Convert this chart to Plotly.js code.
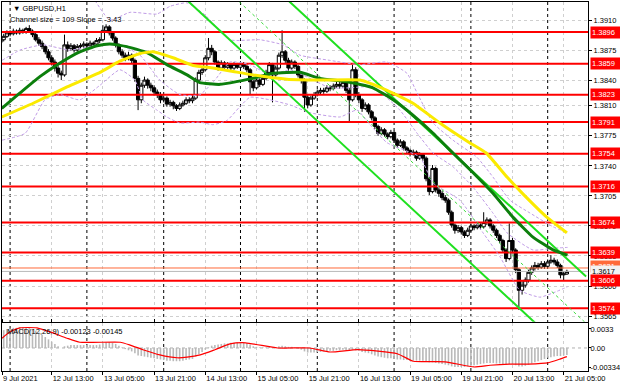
<!DOCTYPE html>
<html><head><meta charset="utf-8">
<script src="https://cdn.plot.ly/plotly-3.0.1.min.js"></script>
<style>html,body{margin:0;padding:0;background:#fff}#chart{width:620px;height:388px}</style>
</head><body><div id="chart"></div>
<script>
// ---- hourly candles, GBPUSD H1, bar 0 = 12 Jul 00:00 (first bar = 9 Jul 21:00) ----
const openP = [1.3884,1.3887,1.3891,1.3895,1.3894,1.3897,1.3895,1.3898,1.3896,1.3900,
1.3897,1.3893,1.3887,1.3883,1.3879,1.3873,1.3866,1.3861,1.3854,1.3848,
1.3846,1.3881,1.3877,1.3880,1.3875,1.3879,1.3880,1.3882,1.3880,1.3883,
1.3882,1.3886,1.3887,1.3898,1.3902,1.3895,1.3889,1.3881,1.3873,1.3869,
1.3866,1.3869,1.3863,1.3842,1.3817,1.3834,1.3840,1.3834,1.3831,1.3826,
1.3823,1.3817,1.3819,1.3812,1.3814,1.3810,1.3807,1.3811,1.3813,1.3817,
1.3816,1.3819,1.3840,1.3849,1.3852,1.3866,1.3877,1.3873,1.3861,1.3854,
1.3860,1.3855,1.3858,1.3854,1.3858,1.3855,1.3859,1.3856,1.3852,1.3838,
1.3831,1.3840,1.3835,1.3842,1.3849,1.3858,1.3846,1.3854,1.3869,1.3873,
1.3863,1.3854,1.3861,1.3856,1.3846,1.3840,1.3820,1.3811,1.3819,1.3823,
1.3826,1.3828,1.3827,1.3831,1.3830,1.3833,1.3835,1.3833,1.3837,1.3828,
1.3817,1.3852,1.3823,1.3817,1.3807,1.3811,1.3803,1.3796,1.3786,1.3778,
1.3782,1.3777,1.3774,1.3779,1.3770,1.3764,1.3768,1.3761,1.3758,1.3754,
1.3756,1.3749,1.3753,1.3749,1.3725,1.3710,1.3737,1.3712,1.3708,1.3703,
1.3700,1.3686,1.3671,1.3665,1.3668,1.3663,1.3659,1.3665,1.3670,1.3668,
1.3671,1.3669,1.3674,1.3677,1.3670,1.3665,1.3659,1.3653,1.3642,1.3632,
1.3653,1.3642,1.3619,1.3595,1.3601,1.3607,1.3616,1.3621,1.3624,1.3622,
1.3626,1.3623,1.3628,1.3630,1.3628,1.3624,1.3613,1.3614];
const highP = [1.3890,1.3894,1.3898,1.3898,1.3900,1.3899,1.3901,1.3900,1.3902,1.3904,
1.3899,1.3895,1.3890,1.3886,1.3881,1.3876,1.3869,1.3864,1.3857,1.3851,
1.3893,1.3885,1.3883,1.3882,1.3882,1.3883,1.3885,1.3884,1.3886,1.3885,
1.3889,1.3890,1.3904,1.3905,1.3904,1.3897,1.3891,1.3883,1.3876,1.3872,
1.3873,1.3871,1.3865,1.3845,1.3837,1.3844,1.3842,1.3837,1.3834,1.3829,
1.3826,1.3822,1.3821,1.3817,1.3816,1.3812,1.3814,1.3816,1.3820,1.3820,
1.3822,1.3843,1.3852,1.3856,1.3869,1.3889,1.3881,1.3875,1.3863,1.3863,
1.3862,1.3861,1.3860,1.3861,1.3860,1.3862,1.3861,1.3858,1.3854,1.3840,
1.3843,1.3842,1.3845,1.3852,1.3861,1.3860,1.3857,1.3872,1.3898,1.3875,
1.3866,1.3864,1.3863,1.3858,1.3848,1.3842,1.3823,1.3822,1.3826,1.3829,
1.3831,1.3831,1.3834,1.3834,1.3836,1.3838,1.3838,1.3840,1.3839,1.3831,
1.3858,1.3855,1.3826,1.3819,1.3814,1.3813,1.3805,1.3798,1.3788,1.3785,
1.3784,1.3779,1.3782,1.3781,1.3772,1.3771,1.3770,1.3763,1.3760,1.3759,
1.3758,1.3756,1.3755,1.3751,1.3727,1.3741,1.3739,1.3715,1.3711,1.3706,
1.3702,1.3688,1.3673,1.3671,1.3670,1.3665,1.3668,1.3673,1.3672,1.3674,
1.3673,1.3686,1.3680,1.3679,1.3672,1.3667,1.3661,1.3655,1.3644,1.3673,
1.3656,1.3644,1.3621,1.3606,1.3610,1.3619,1.3624,1.3628,1.3627,1.3629,
1.3629,1.3631,1.3636,1.3633,1.3631,1.3626,1.3617,1.3619];
const lowP = [1.3881,1.3885,1.3889,1.3891,1.3892,1.3893,1.3893,1.3894,1.3894,1.3895,
1.3890,1.3885,1.3880,1.3876,1.3870,1.3863,1.3857,1.3850,1.3843,1.3840,
1.3844,1.3873,1.3874,1.3872,1.3873,1.3876,1.3877,1.3877,1.3878,1.3879,
1.3880,1.3883,1.3885,1.3895,1.3892,1.3886,1.3878,1.3870,1.3866,1.3862,
1.3863,1.3859,1.3838,1.3805,1.3813,1.3831,1.3830,1.3827,1.3822,1.3819,
1.3813,1.3814,1.3809,1.3809,1.3806,1.3804,1.3805,1.3809,1.3811,1.3813,
1.3813,1.3817,1.3837,1.3846,1.3850,1.3863,1.3869,1.3858,1.3851,1.3852,
1.3852,1.3853,1.3851,1.3852,1.3853,1.3853,1.3853,1.3849,1.3823,1.3827,
1.3829,1.3832,1.3833,1.3840,1.3847,1.3814,1.3844,1.3852,1.3866,1.3860,
1.3851,1.3852,1.3853,1.3843,1.3836,1.3803,1.3807,1.3809,1.3817,1.3821,
1.3823,1.3824,1.3825,1.3827,1.3828,1.3831,1.3830,1.3831,1.3825,1.3791,
1.3815,1.3820,1.3813,1.3803,1.3805,1.3800,1.3793,1.3783,1.3775,1.3776,
1.3774,1.3771,1.3772,1.3767,1.3761,1.3762,1.3758,1.3755,1.3751,1.3752,
1.3746,1.3747,1.3746,1.3722,1.3706,1.3708,1.3709,1.3704,1.3700,1.3697,
1.3683,1.3668,1.3661,1.3662,1.3660,1.3656,1.3657,1.3663,1.3665,1.3666,
1.3666,1.3667,1.3671,1.3667,1.3662,1.3656,1.3650,1.3639,1.3628,1.3630,
1.3638,1.3615,1.3572,1.3590,1.3598,1.3604,1.3613,1.3618,1.3619,1.3620,
1.3620,1.3621,1.3626,1.3625,1.3621,1.3609,1.3606,1.3613];
const closeP = [1.3887,1.3891,1.3895,1.3894,1.3897,1.3895,1.3898,1.3896,1.3900,1.3897,
1.3893,1.3887,1.3883,1.3879,1.3873,1.3866,1.3861,1.3854,1.3848,1.3846,
1.3881,1.3877,1.3880,1.3875,1.3879,1.3880,1.3882,1.3880,1.3883,1.3882,
1.3886,1.3887,1.3898,1.3902,1.3895,1.3889,1.3881,1.3873,1.3869,1.3866,
1.3869,1.3863,1.3842,1.3817,1.3834,1.3840,1.3834,1.3831,1.3826,1.3823,
1.3817,1.3819,1.3812,1.3814,1.3810,1.3807,1.3811,1.3813,1.3817,1.3816,
1.3819,1.3840,1.3849,1.3852,1.3866,1.3877,1.3873,1.3861,1.3854,1.3860,
1.3855,1.3858,1.3854,1.3858,1.3855,1.3859,1.3856,1.3852,1.3838,1.3831,
1.3840,1.3835,1.3842,1.3849,1.3858,1.3846,1.3854,1.3869,1.3873,1.3863,
1.3854,1.3861,1.3856,1.3846,1.3840,1.3820,1.3811,1.3819,1.3823,1.3826,
1.3828,1.3827,1.3831,1.3830,1.3833,1.3835,1.3833,1.3837,1.3828,1.3817,
1.3852,1.3823,1.3817,1.3807,1.3811,1.3803,1.3796,1.3786,1.3778,1.3782,
1.3777,1.3774,1.3779,1.3770,1.3764,1.3768,1.3761,1.3758,1.3754,1.3756,
1.3749,1.3753,1.3749,1.3725,1.3710,1.3737,1.3712,1.3708,1.3703,1.3700,
1.3686,1.3671,1.3665,1.3668,1.3663,1.3659,1.3665,1.3670,1.3668,1.3671,
1.3669,1.3674,1.3677,1.3670,1.3665,1.3659,1.3653,1.3642,1.3632,1.3653,
1.3642,1.3619,1.3595,1.3601,1.3607,1.3616,1.3621,1.3624,1.3622,1.3626,
1.3623,1.3628,1.3630,1.3628,1.3624,1.3613,1.3614,1.3617];
const firstBar = -3;

// ---- MACD(12,26,9) ----
const macdHist = [0.0030,0.0031,0.0033,0.0034,0.0035,0.0035,0.0036,0.0036,0.0036,0.0035,0.0033,
0.0030,0.0027,0.0023,0.0019,0.0015,0.0011,0.0007,0.0003,0.0000,
0.0003,0.0004,0.0005,0.0005,0.0005,0.0005,0.0005,0.0005,0.0005,0.0005,0.0005,0.0006,0.0008,0.0010,
0.0010,0.0009,0.0007,0.0004,0.0001,-0.0002,-0.0004,-0.0006,-0.0009,-0.0013,-0.0014,-0.0015,-0.0016,-0.0017,-0.0018,
-0.0019,-0.0020,-0.0021,-0.0022,-0.0022,-0.0023,-0.0023,-0.0023,-0.0022,-0.0021,-0.0020,-0.0019,-0.0015,-0.0011,-0.0007,
-0.0003,0.0001,0.0004,0.0005,0.0006,0.0007,0.0008,0.0008,0.0009,0.0009,0.0010,0.0010,0.0009,0.0008,0.0006,
0.0003,0.0002,0.0001,0.0001,0.0001,0.0002,0.0001,0.0001,0.0003,0.0004,0.0003,0.0002,0.0002,0.0001,-0.0001,
-0.0003,-0.0006,-0.0008,-0.0008,-0.0008,-0.0007,-0.0007,-0.0006,-0.0006,-0.0005,-0.0005,-0.0004,-0.0004,-0.0003,-0.0004,
-0.0005,-0.0003,-0.0004,-0.0005,-0.0007,-0.0008,-0.0009,-0.0011,-0.0013,-0.0015,-0.0016,-0.0017,-0.0018,-0.0018,-0.0019,
-0.0020,-0.0020,-0.0021,-0.0021,-0.0022,-0.0022,-0.0022,-0.0022,-0.0022,-0.0023,-0.0025,-0.0025,-0.0026,-0.0027,-0.0028,
-0.0029,-0.0030,-0.0032,-0.0033,-0.0033,-0.0033,-0.0033,-0.0032,-0.0031,-0.0030,-0.0029,-0.0028,-0.0027,-0.0026,-0.0026,
-0.0026,-0.0027,-0.0027,-0.0028,-0.0029,-0.0028,-0.0028,-0.0030,-0.0032,-0.0032,-0.0031,-0.0029,-0.0027,-0.0025,-0.0023,
-0.0021,-0.0019,-0.0017,-0.0016,-0.0015,-0.0014,-0.0014,-0.0013,-0.0012];
const signalBars = [-2.5,0,3,8.4,12.5,17.8,21.8,34.4,37.5,41.5,46.8,52.2,55.3,59.4,64,68.7,73.6,83.6,93.6,100,108.7,121,126,136,145,150,156,162,168,172,174];
const signalVals = [0.0017,0.0028,0.0035,0.0035,0.0028,0.0017,0.0010,0.0010,0.0005,-0.0003,-0.0012,-0.0017,-0.0016,-0.0012,-0.0003,0.0007,0.0009,0.0000,0.0000,-0.0007,-0.0003,-0.0010,-0.0023,-0.0024,-0.0033,-0.0030,-0.0028,-0.0028,-0.0026,-0.0019,-0.0015];

// ---- moving averages ----
const yellowBars = [-2.6,7.2,17.8,28.1,34.3,40.6,44.7,50.9,57.2,63.4,69.7,75.9,86.5,96.8,109.3,117.8,125.9,134.3,143.6,148.8,155.3,160.1,167.8,174];
const yellowMA = [1.3797,1.3813,1.3832,1.3849,1.3862,1.3871,1.3873,1.3866,1.3857,1.3854,1.3850,1.3846,1.3841,1.3840,1.3840,1.3828,1.3813,1.3790,1.3767,1.3755,1.3727,1.3708,1.3680,1.3662];
const greenBars = [-2.6,3.1,9.3,15.6,21.8,27.2,31.2,36.5,42.8,49.0,55.3,59.3,65.6,75.9,82.2,90.6,96.8,105.3,113.4,119.7,125.9,132.2,138.4,144.7,150.9,157.2,163.4,169.7,174.2];
const greenMA = [1.3807,1.3825,1.3844,1.3860,1.3873,1.3880,1.3882,1.3879,1.3872,1.3858,1.3846,1.3837,1.3835,1.3842,1.3848,1.3849,1.3842,1.3838,1.3831,1.3817,1.3799,1.3778,1.3755,1.3732,1.3708,1.3680,1.3657,1.3642,1.3636];

// ---- bands (lavender dashed) ----
const upperBandBars = [26.5,31.2,37.5,45.9,50.0,55.3,60.9,68.7,78.1,85.3,90.6,99.9,109.3,117.8,124.0,127.2,132.2,138.4,145.9,150.9,156.2,162.5,169.7,174.2];
const upperBand = [1.3933,1.3910,1.3919,1.3917,1.3926,1.3930,1.3916,1.3887,1.3887,1.3881,1.3869,1.3863,1.3858,1.3861,1.3848,1.3825,1.3790,1.3770,1.3750,1.3727,1.3700,1.3685,1.3669,1.3662];
const midBandBars = [-2.5,3.1,10.3,18.7,28.1,34.3,40.6,46.8,53.1,59.3,64.0,68.7,75.0,81.2,87.5,93.7,99.9,106.2,113.4,121.8,127.2,132.2,138.4,144.7,150.9,155.3,163.4,169.7,174.2];
const midBand = [1.3863,1.3875,1.3881,1.3875,1.3881,1.3881,1.3869,1.3840,1.3823,1.3823,1.3840,1.3861,1.3858,1.3846,1.3852,1.3842,1.3831,1.3831,1.3832,1.3805,1.3778,1.3755,1.3739,1.3715,1.3685,1.3662,1.3642,1.3644,1.3645];
const lowerBandBars = [-2.5,4.7,10.9,15.6,21.8,28.1,34.3,39.0,41.5,45.9,49.0,53.1,59.3,63.4,67.8,71.8,75.0,81.2,87.5,93.7,103.1,108.4,112.5,117.8,128.1,132.2,140.6,147.8,153.1,159.3,165.6,169.7,174.2];
const lowerBand = [1.3770,1.3778,1.3817,1.3823,1.3817,1.3834,1.3852,1.3840,1.3817,1.3805,1.3797,1.3790,1.3791,1.3788,1.3793,1.3809,1.3820,1.3817,1.3811,1.3802,1.3797,1.3805,1.3788,1.3767,1.3750,1.3720,1.3700,1.3662,1.3634,1.3595,1.3587,1.3592,1.3599];

// ---- regression channel (109 pips, slope -3.43) ----
const channelBars = [40, 180];
const channelUpper = [1.4095, 1.3611];
const channelMiddle = [1.40405, 1.35565];
const channelLower = [1.3986, 1.3502];

// ---- horizontal levels ----
const levels = [1.3896, 1.3859, 1.3823, 1.3791, 1.3754, 1.3716, 1.3674, 1.3639, 1.3606, 1.3574];
const bidPrice = 1.3617;
const askLine = 1.3621;

// ---- axes ----
const tickBars = [-2.5, 13, 29, 45, 61, 77, 93, 109, 125, 141, 157, 173];
const tickLabels = ['9 Jul 2021','12 Jul 13:00','13 Jul 05:00','13 Jul 21:00','14 Jul 13:00','15 Jul 05:00','15 Jul 21:00','16 Jul 13:00','19 Jul 05:00','19 Jul 21:00','20 Jul 13:00','21 Jul 05:00'];
const daySeparators = [0, 24, 48, 72, 96, 120, 144, 168];
const priceTicks = [1.3910,1.3875,1.3840,1.3810,1.3775,1.3740,1.3705,1.3670,1.3635,1.3600,1.3565];
const macdTicks = [0.0033, 0, -0.00334];
const macdTickText = ['0.0033', '0.00', '-0.00334'];

const xRange = [-2.53, 180.6];
const bars = closeP.map((_, k) => k + firstBar);
const FONT = 'Liberation Sans, Arial, sans-serif';

const traces = [];
traces.push({type:'bar', x:bars, y:macdHist, xaxis:'x', yaxis:'y2', width:0.5,
  marker:{color:'#b9b9b9', line:{width:0}}, hoverinfo:'skip'});
traces.push({type:'scatter', mode:'lines', x:signalBars, y:signalVals, xaxis:'x', yaxis:'y2',
  line:{color:'#ff0000', width:1.2, shape:'spline', smoothing:0.5}, hoverinfo:'skip'});
traces.push({type:'candlestick', x:bars, open:openP, high:highP, low:lowP, close:closeP,
  xaxis:'x', yaxis:'y', whiskerwidth:0,
  increasing:{line:{color:'#000', width:1}, fillcolor:'#ffffff'},
  decreasing:{line:{color:'#000', width:1}, fillcolor:'#000000'}, hoverinfo:'skip'});
levels.forEach(v => traces.push({type:'scatter', mode:'lines', x:xRange, y:[v, v], xaxis:'x', yaxis:'y',
  line:{color:'#ff0000', width:2}, hoverinfo:'skip'}));
traces.push({type:'scatter', mode:'lines', x:xRange, y:[askLine, askLine], line:{color:'#ff6a3a', width:1}, hoverinfo:'skip'});
traces.push({type:'scatter', mode:'lines', x:xRange, y:[bidPrice, bidPrice], line:{color:'#b8b8b8', width:1}, hoverinfo:'skip'});
[[upperBandBars, upperBand], [midBandBars, midBand], [lowerBandBars, lowerBand]].forEach(([bx, by]) =>
  traces.push({type:'scatter', mode:'lines', x:bx, y:by, line:{color:'#c09ce6', width:1, dash:'3px,2px', shape:'spline', smoothing:0.5}, hoverinfo:'skip'}));
traces.push({type:'scatter', mode:'lines', x:channelBars, y:channelMiddle, line:{color:'#3ddc3d', width:1, dash:'3px,3px'}, hoverinfo:'skip'});
traces.push({type:'scatter', mode:'lines', x:channelBars, y:channelUpper, line:{color:'#1fe01f', width:2}, hoverinfo:'skip'});
traces.push({type:'scatter', mode:'lines', x:channelBars, y:channelLower, line:{color:'#1fe01f', width:2}, hoverinfo:'skip'});
traces.push({type:'scatter', mode:'lines', x:greenBars, y:greenMA, line:{color:'#0c7f0c', width:3, shape:'spline', smoothing:0.4}, hoverinfo:'skip'});
traces.push({type:'scatter', mode:'lines', x:yellowBars, y:yellowMA, line:{color:'#fbea00', width:3, shape:'spline', smoothing:0.4}, hoverinfo:'skip'});

const shapes = daySeparators.map(d => ({type:'line', xref:'x', yref:'paper', x0:d, x1:d, y0:0, y1:1,
  line:{color:'#000', width:1, dash:'3px,3px'}, layer:'below'}));
shapes.push({type:'line', xref:'paper', yref:'y2', x0:0, x1:1, y0:0, y1:0, line:{color:'#b0b0b0', width:1, dash:'dot'}, layer:'below'});

const annotations = [];
annotations.push({xref:'paper', yref:'paper', x:0, y:1, xanchor:'left', yanchor:'top', xshift:9, yshift:0,
  text:'▼ GBPUSD,H1', showarrow:false, font:{family:FONT, size:7.5, color:'#000'}});
annotations.push({xref:'paper', yref:'paper', x:0, y:1, xanchor:'left', yanchor:'top', xshift:6, yshift:-11,
  text:'Channel size = 109 Slope = -3.43', showarrow:false, font:{family:FONT, size:7.5, color:'#000'}});
annotations.push({xref:'paper', yref:'y2 domain', x:0, y:1, xanchor:'left', yanchor:'top', xshift:3, yshift:-2,
  text:'MACD(12,26,9) -0.00123 -0.00145', showarrow:false, font:{family:FONT, size:7.5, color:'#000'}});
annotations.push({xref:'paper', yref:'y', x:1, y:1.3623, xanchor:'left', xshift:2, text:'1.3621', showarrow:false,
  bgcolor:'#ff6a3a', borderpad:1, width:27, align:'left', font:{family:FONT, size:7.5, color:'#fff'}});
annotations.push({xref:'paper', yref:'y', x:1, y:bidPrice, xanchor:'left', xshift:2, text:bidPrice.toFixed(4), showarrow:false,
  bgcolor:'#f2f2f2', borderpad:1, width:27, align:'left', font:{family:FONT, size:7.5, color:'#000'}});
levels.forEach(v => annotations.push({xref:'paper', yref:'y', x:1, y:v, xanchor:'left', xshift:2,
  text:v.toFixed(4), showarrow:false, bgcolor:'#ff0000', borderpad:1, width:27, align:'left',
  font:{family:FONT, size:7.5, color:'#fff'}}));

const layout = {
  width:620, height:388, margin:{l:2, r:32, t:2, b:17},
  paper_bgcolor:'#fff', plot_bgcolor:'#fff', showlegend:false,
  font:{family:FONT, size:7.5, color:'#000'},
  boxgap:0, boxgroupgap:0, boxmode:'overlay',
  xaxis:{range:xRange, anchor:'y2', tickmode:'array', tickvals:tickBars, ticktext:tickLabels,
    ticklabelposition:'outside right', ticks:'outside', ticklen:3, tickcolor:'#000',
    showgrid:true, gridcolor:'#cfcfcf', griddash:'dot', gridwidth:1,
    showline:true, linecolor:'#000', linewidth:1, mirror:'all', zeroline:false,
    rangeslider:{visible:false}, fixedrange:true},
  yaxis:{domain:[0.1336, 1], range:[1.35584, 1.39310], side:'right', tickmode:'array', tickvals:priceTicks,
    tickformat:'.4f', ticks:'outside', ticklen:3, tickcolor:'#000',
    showgrid:true, gridcolor:'#cfcfcf', griddash:'dot', gridwidth:1,
    showline:true, linecolor:'#000', linewidth:1, mirror:true, zeroline:false, fixedrange:true},
  yaxis2:{domain:[0, 0.1301], range:[-0.0040, 0.00434], side:'right', tickmode:'array', tickvals:macdTicks,
    ticktext:macdTickText, ticks:'outside', ticklen:2, tickcolor:'#000', showgrid:false, ticklabelstandoff:-2,
    showline:true, linecolor:'#000', linewidth:1, mirror:true, zeroline:false, fixedrange:true},
  shapes:shapes, annotations:annotations
};
Plotly.newPlot('chart', traces, layout, {staticPlot:true, displayModeBar:false});
</script></body></html>
